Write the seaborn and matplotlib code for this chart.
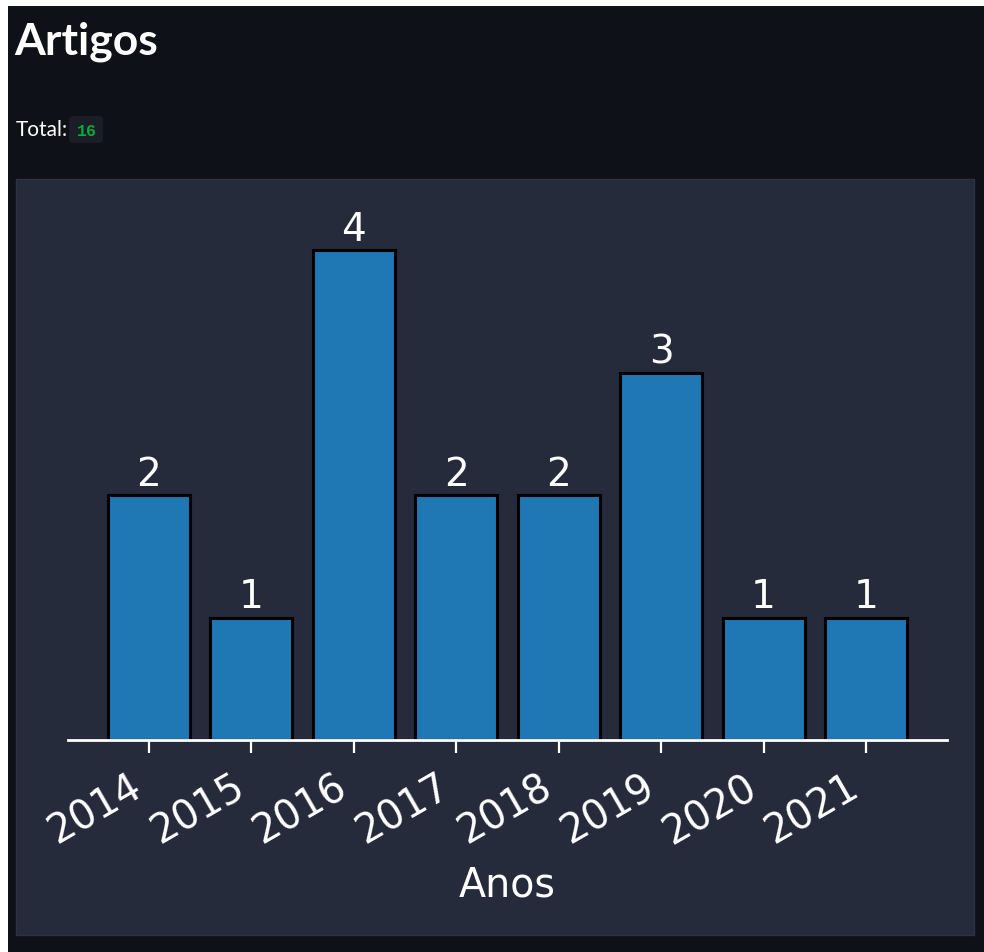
import matplotlib
matplotlib.use("Agg")
import matplotlib.pyplot as plt
from matplotlib.patches import Rectangle, FancyBboxPatch
import seaborn as sns
import pandas as pd

# ---- data ----
anos = ["2014", "2015", "2016", "2017", "2018", "2019", "2020", "2021"]
artigos = [2, 1, 4, 2, 2, 3, 1, 1]
titulo = "Artigos"
total_label = "Total:"
total_valor = str(sum(artigos))
xlabel = "Anos"

W, H = 984, 952
PAGE = "#0e1117"
PANEL = "#252b3b"
BAR = "#1f77b4"

sns.set_theme(style="white")
plt.rcParams["font.family"] = ["DejaVu Sans"]

fig = plt.figure(figsize=(W / 100, H / 100), dpi=100, facecolor=PAGE)


def fx(px):
    return px / W


def fy(py):
    return 1 - py / H


# white strips (top and left)
fig.add_artist(Rectangle((0, fy(6)), 1, 6 / H, transform=fig.transFigure,
                         facecolor="white", edgecolor="none", zorder=0))
fig.add_artist(Rectangle((0, 0), 8 / W, 1, transform=fig.transFigure,
                         facecolor="white", edgecolor="none", zorder=0))

# chart panel
fig.add_artist(Rectangle((fx(16), fy(935)), (974 - 16) / W, (935 - 179) / H,
                         transform=fig.transFigure, facecolor=PANEL,
                         edgecolor="#2c3345", linewidth=1, zorder=0))

# header texts
fig.text(fx(14), fy(55), titulo, color="white", fontsize=32, fontweight="bold",
         family=["Lato", "DejaVu Sans"], va="baseline", ha="left")
fig.text(fx(16), fy(136), total_label, color="white", fontsize=15,
         family=["Lato", "DejaVu Sans"], va="baseline", ha="left")
fig.add_artist(FancyBboxPatch((fx(71), fy(141)), (101 - 71) / W, (141 - 118) / H,
                              boxstyle="round,pad=0.002,rounding_size=0.004",
                              transform=fig.transFigure, facecolor="#1b1e26",
                              edgecolor="none"))
fig.text(fx(87), fy(131), total_valor, color="#09ab3b", fontsize=12,
         fontweight="bold", family=["Liberation Mono", "DejaVu Sans Mono"],
         va="center", ha="center")

# main axes
ax = fig.add_axes([fx(68), fy(740), (947 - 68) / W, (740 - 225.5) / H])
ax.set_facecolor("none")

df = pd.DataFrame({"Anos": anos, "Artigos": artigos})
sns.barplot(data=df, x="Anos", y="Artigos", color=BAR, saturation=1,
            edgecolor="black", linewidth=2.2, ax=ax)

ax.set_xlim(-0.79, 7.79)
ax.set_ylim(0, 4.2)

for c in ax.containers:
    ax.bar_label(c, labels=[str(v) for v in artigos], padding=1,
                 color="white", fontsize=28)

for s in ["top", "right", "left"]:
    ax.spines[s].set_visible(False)
ax.spines["bottom"].set_color("white")
ax.spines["bottom"].set_linewidth(2)
ax.set_yticks([])
ax.set_ylabel("")
ax.tick_params(axis="x", colors="white", length=9, width=1.6, pad=11,
               labelsize=28.5, bottom=True)
plt.setp(ax.get_xticklabels(), rotation=30, ha="right")
ax.set_xlabel(xlabel, color="white", fontsize=28.5, labelpad=9)

fig.savefig("out.png", dpi=100, facecolor=PAGE)
